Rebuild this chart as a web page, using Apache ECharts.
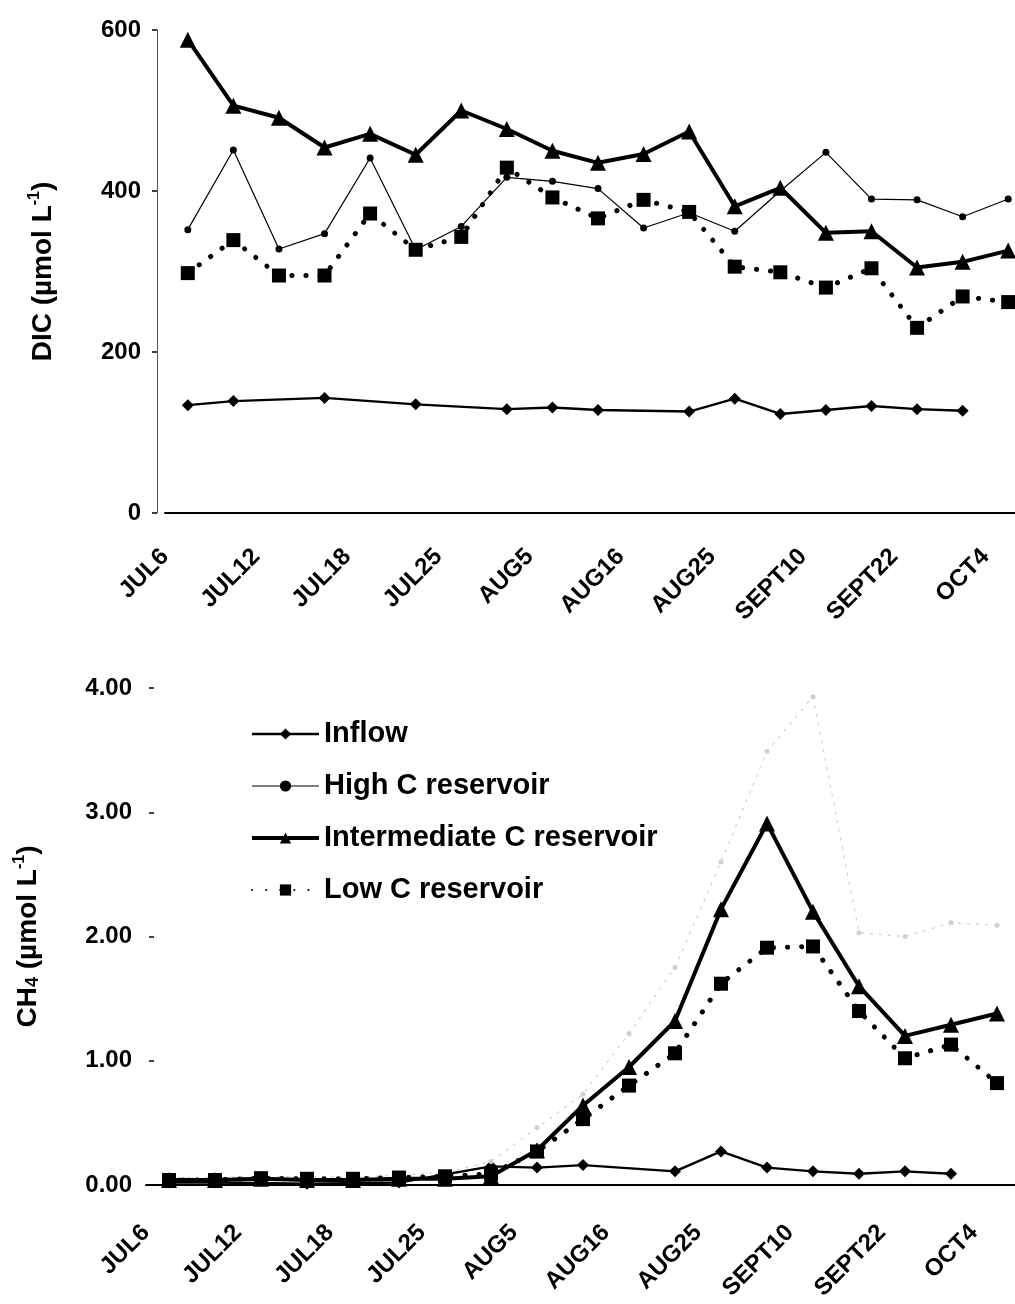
<!DOCTYPE html>
<html>
<head>
<meta charset="utf-8">
<script src="https://cdn.jsdelivr.net/npm/echarts/dist/echarts.min.js"></script>
<style>
html,body{margin:0;padding:0;background:#ffffff;overflow:hidden;width:1015px;height:1304px;}
#chart{width:1035px;height:1304px;}
</style>
</head>
<body>
<div id="chart"></div>
<script>
// ---- data ----
const samples = ['1','2','3','4','5','6','7','8','9','10','11','12','13','14','15','16','17','18','19'];
const tickLabels = ['JUL6','JUL12','JUL18','JUL25','AUG5','AUG16','AUG25','SEPT10','SEPT22','OCT4'];
const seriesNames = ['Inflow','High C reservoir','Intermediate C reservoir','Low C reservoir'];

// DIC (µmol L-1)
const dicInflow = [134, 139, null, 143, null, 135, null, 129, 131, 128, null, 126, 142, 123, 128, 133, 129, 127, null];
const dicHigh   = [352, 451, 328, 347, 441, 327, 356, 417, 412, 403, 354, 373, 350, 400, 448, 390, 389, 368, 390];
const dicInter  = [588, 506, 491, 454, 471, 445, 500, 477, 450, 435, 446, 474, 381, 404, 348, 350, 305, 312, 326];
const dicLow    = [298, 339, 295, 295, 372, 327, 343, 429, 392, 366, 389, 374, 306, 299, 280, 304, 230, 269, 262];

// CH4 (µmol L-1)
const ch4Inflow = [0.02, 0.02, null, 0.01, null, 0.02, null, 0.15, 0.14, 0.16, null, 0.11, 0.27, 0.14, 0.11, 0.09, 0.11, 0.09, null];
const ch4High   = [0.06, 0.06, 0.07, 0.07, 0.06, 0.08, 0.10, 0.19, 0.46, 0.73, 1.22, 1.75, 2.60, 3.49, 3.93, 2.03, 2.00, 2.11, 2.09];
const ch4Inter  = [0.04, 0.04, 0.05, 0.04, 0.04, 0.05, 0.05, 0.07, 0.28, 0.64, 0.95, 1.32, 2.22, 2.91, 2.20, 1.60, 1.20, 1.29, 1.38];
const ch4Low    = [0.04, 0.04, 0.055, 0.05, 0.05, 0.06, 0.07, 0.09, 0.27, 0.53, 0.80, 1.06, 1.62, 1.91, 1.92, 1.40, 1.02, 1.13, 0.82];

// ---- build ----
const FONT = '"Liberation Sans", Arial, sans-serif';
const labelSlots = [];
for (let k = 0; k < samples.length + 1; k++) {
  labelSlots.push(k % 2 === 0 && tickLabels[k / 2] !== undefined ? tickLabels[k / 2] : '');
}

function dataAxis(gi) {
  return {
    gridIndex: gi, type: 'category', data: samples, boundaryGap: true,
    axisLine: { show: true, lineStyle: { color: '#000', width: 2 } },
    axisTick: { show: false }, axisLabel: { show: false }, splitLine: { show: false }
  };
}
function labelAxis(gi, margin) {
  return {
    gridIndex: gi, type: 'category', data: labelSlots, boundaryGap: false, position: 'bottom',
    axisLine: { show: false }, axisTick: { show: false }, splitLine: { show: false },
    axisLabel: { interval: 0, rotate: 45, margin: margin, color: '#000',
      fontFamily: FONT, fontWeight: 'bold', fontSize: 24 }
  };
}

const supRich = {
  sup: { fontSize: 16, fontWeight: 'bold', fontFamily: FONT, color: '#000', padding: [0, 0, 16, 0] },
  sub: { fontSize: 18, fontWeight: 'bold', fontFamily: FONT, color: '#000', padding: [10, 0, 0, 0] }
};

function lineSeries(name, data, xi, yi, faint) {
  const base = { name: name, type: 'line', data: data, xAxisIndex: xi, yAxisIndex: yi,
    connectNulls: true, animation: false, z: 2 };
  if (name === 'Inflow') {
    return Object.assign(base, { symbol: 'diamond', symbolSize: 12,
      itemStyle: { color: '#000' }, lineStyle: { color: '#000', width: 2.4 } });
  }
  if (name === 'High C reservoir') {
    const c = faint ? '#cfcfcf' : '#000';
    return Object.assign(base, { symbol: 'circle', symbolSize: faint ? 5 : 7,
      itemStyle: { color: c }, lineStyle: { color: c, width: 1.2, type: faint ? [3, 6] : 'solid' } });
  }
  if (name === 'Intermediate C reservoir') {
    return Object.assign(base, { symbol: 'triangle', symbolSize: 16,
      itemStyle: { color: '#000' }, lineStyle: { color: '#000', width: 4 } });
  }
  return Object.assign(base, { symbol: 'rect', symbolSize: 14, z: 3,
    itemStyle: { color: '#000', borderRadius: 2 },
    lineStyle: { color: '#000', width: 5, type: [0.1, 14], cap: 'round' } });
}

const option = {
  backgroundColor: '#ffffff',
  animation: false,
  textStyle: { fontFamily: FONT },
  grid: [
    { left: 165, right: 4, top: 30, bottom: 791, containLabel: false },
    { left: 146, right: 15, top: 688, bottom: 119, containLabel: false }
  ],
  legend: {
    orient: 'vertical', left: 245, top: 714,
    itemWidth: 67, itemHeight: 14, itemGap: 22,
    data: [
      { name: seriesNames[0], lineStyle: { width: 2.4 } },
      { name: seriesNames[1], lineStyle: { width: 1.2 } },
      { name: seriesNames[2], lineStyle: { width: 4 } },
      { name: seriesNames[3] }
    ],
    textStyle: { fontFamily: FONT, fontWeight: 'bold', fontSize: 29, color: '#000', lineHeight: 30 },
    selectedMode: false
  },
  xAxis: [dataAxis(0), labelAxis(0, 40), dataAxis(1), labelAxis(1, 44)],
  yAxis: [
    {
      gridIndex: 0, type: 'value', min: 0, max: 600, interval: 200, offset: 8,
      name: 'DIC (µmol L{sup|-1})', nameLocation: 'middle', nameGap: 98,
      nameTextStyle: { fontFamily: FONT, fontWeight: 'bold', fontSize: 28, color: '#000', rich: supRich },
      axisLine: { show: true, lineStyle: { color: '#555', width: 1 } },
      axisTick: { show: true, length: 5, lineStyle: { color: '#000', width: 1.5 } },
      axisLabel: { margin: 16, color: '#000', fontFamily: FONT, fontWeight: 'bold', fontSize: 24 },
      splitLine: { show: false }
    },
    {
      gridIndex: 1, type: 'value', min: 0, max: 4, interval: 1, offset: -8,
      name: 'CH{sub|4} (µmol L{sup|-1})', nameLocation: 'middle', nameGap: 110,
      nameTextStyle: { fontFamily: FONT, fontWeight: 'bold', fontSize: 28, color: '#000', rich: supRich },
      axisLine: { show: false },
      axisTick: { show: true, length: 5, lineStyle: { color: '#000', width: 1.5 } },
      axisLabel: { margin: 22, color: '#000', fontFamily: FONT, fontWeight: 'bold', fontSize: 24,
        formatter: function (v) { return v.toFixed(2); } },
      splitLine: { show: false }
    }
  ],
  series: [
    lineSeries('Inflow', dicInflow, 0, 0),
    lineSeries('High C reservoir', dicHigh, 0, 0),
    lineSeries('Intermediate C reservoir', dicInter, 0, 0),
    lineSeries('Low C reservoir', dicLow, 0, 0),
    lineSeries('Inflow', ch4Inflow, 2, 1),
    lineSeries('High C reservoir', ch4High, 2, 1, true),
    lineSeries('Intermediate C reservoir', ch4Inter, 2, 1),
    lineSeries('Low C reservoir', ch4Low, 2, 1)
  ]
};

const chart = echarts.init(document.getElementById('chart'), null, { renderer: 'canvas' });
chart.setOption(option);
</script>
</body>
</html>
